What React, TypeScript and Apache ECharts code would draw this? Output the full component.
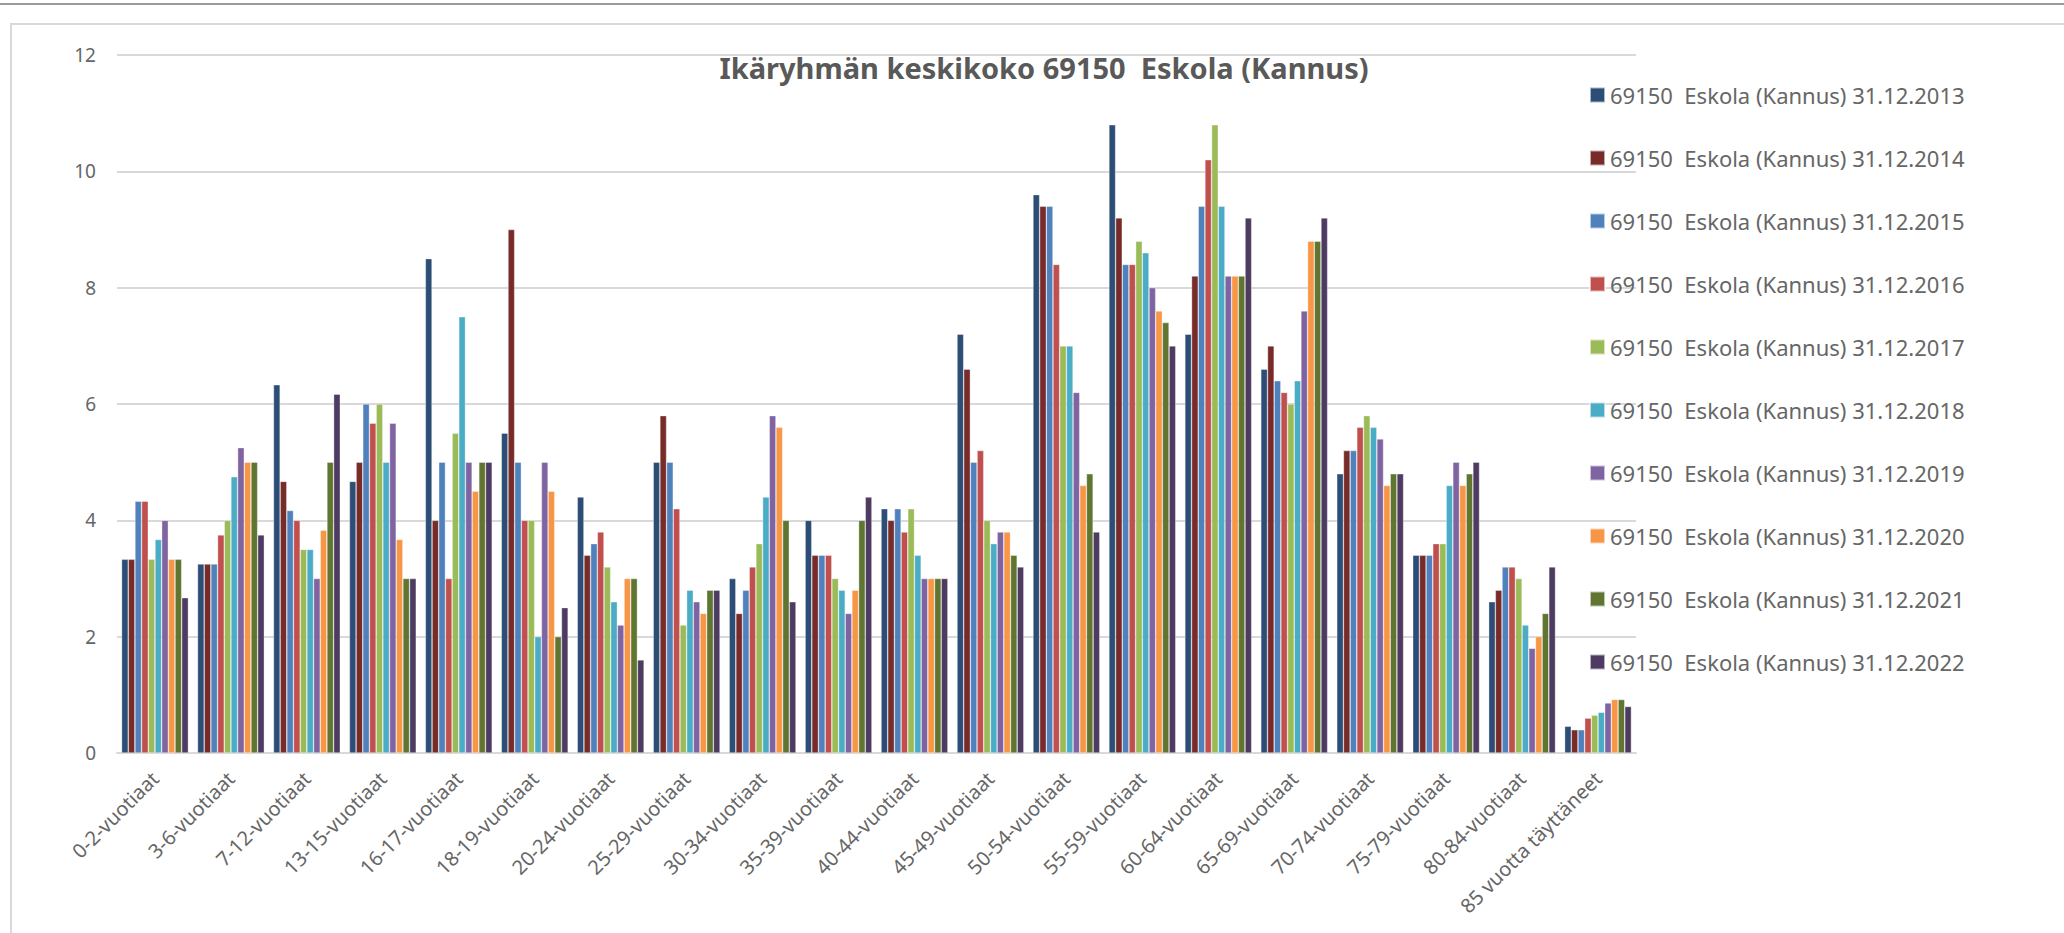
import React, { useEffect, useRef } from "react";
import * as echarts from "echarts";

const categories = [
  "0-2-vuotiaat", "3-6-vuotiaat", "7-12-vuotiaat", "13-15-vuotiaat", "16-17-vuotiaat",
  "18-19-vuotiaat", "20-24-vuotiaat", "25-29-vuotiaat", "30-34-vuotiaat", "35-39-vuotiaat",
  "40-44-vuotiaat", "45-49-vuotiaat", "50-54-vuotiaat", "55-59-vuotiaat", "60-64-vuotiaat",
  "65-69-vuotiaat", "70-74-vuotiaat", "75-79-vuotiaat", "80-84-vuotiaat", "85 vuotta täyttäneet",
];

const seriesNames = [
  "69150  Eskola (Kannus) 31.12.2013",
  "69150  Eskola (Kannus) 31.12.2014",
  "69150  Eskola (Kannus) 31.12.2015",
  "69150  Eskola (Kannus) 31.12.2016",
  "69150  Eskola (Kannus) 31.12.2017",
  "69150  Eskola (Kannus) 31.12.2018",
  "69150  Eskola (Kannus) 31.12.2019",
  "69150  Eskola (Kannus) 31.12.2020",
  "69150  Eskola (Kannus) 31.12.2021",
  "69150  Eskola (Kannus) 31.12.2022",
];

const colors = [
  "#2C4D75", "#772C2A", "#4F81BD", "#C0504D", "#9BBB59",
  "#4BACC6", "#8064A2", "#F79646", "#5F7530", "#4D3B62",
];

const y2013 = [3.33, 3.25, 6.33, 4.67, 8.5, 5.5, 4.4, 5.0, 3.0, 4.0, 4.2, 7.2, 9.6, 10.8, 7.2, 6.6, 4.8, 3.4, 2.6, 0.46];
const y2014 = [3.33, 3.25, 4.67, 5.0, 4.0, 9.0, 3.4, 5.8, 2.4, 3.4, 4.0, 6.6, 9.4, 9.2, 8.2, 7.0, 5.2, 3.4, 2.8, 0.4];
const y2015 = [4.33, 3.25, 4.17, 6.0, 5.0, 5.0, 3.6, 5.0, 2.8, 3.4, 4.2, 5.0, 9.4, 8.4, 9.4, 6.4, 5.2, 3.4, 3.2, 0.4];
const y2016 = [4.33, 3.75, 4.0, 5.67, 3.0, 4.0, 3.8, 4.2, 3.2, 3.4, 3.8, 5.2, 8.4, 8.4, 10.2, 6.2, 5.6, 3.6, 3.2, 0.6];
const y2017 = [3.33, 4.0, 3.5, 6.0, 5.5, 4.0, 3.2, 2.2, 3.6, 3.0, 4.2, 4.0, 7.0, 8.8, 10.8, 6.0, 5.8, 3.6, 3.0, 0.65];
const y2018 = [3.67, 4.75, 3.5, 5.0, 7.5, 2.0, 2.6, 2.8, 4.4, 2.8, 3.4, 3.6, 7.0, 8.6, 9.4, 6.4, 5.6, 4.6, 2.2, 0.7];
const y2019 = [4.0, 5.25, 3.0, 5.67, 5.0, 5.0, 2.2, 2.6, 5.8, 2.4, 3.0, 3.8, 6.2, 8.0, 8.2, 7.6, 5.4, 5.0, 1.8, 0.86];
const y2020 = [3.33, 5.0, 3.83, 3.67, 4.5, 4.5, 3.0, 2.4, 5.6, 2.8, 3.0, 3.8, 4.6, 7.6, 8.2, 8.8, 4.6, 4.6, 2.0, 0.92];
const y2021 = [3.33, 5.0, 5.0, 3.0, 5.0, 2.0, 3.0, 2.8, 4.0, 4.0, 3.0, 3.4, 4.8, 7.4, 8.2, 8.8, 4.8, 4.8, 2.4, 0.92];
const y2022 = [2.67, 3.75, 6.17, 3.0, 5.0, 2.5, 1.6, 2.8, 2.6, 4.4, 3.0, 3.2, 3.8, 7.0, 9.2, 9.2, 4.8, 5.0, 3.2, 0.8];

const allSeries = [y2013, y2014, y2015, y2016, y2017, y2018, y2019, y2020, y2021, y2022];

const titleText = "Ikäryhmän keskikoko 69150  Eskola (Kannus)";

export default function App() {
  const ref = useRef<HTMLDivElement>(null);
  useEffect(() => {
    if (!ref.current) return;
    const chart = echarts.init(ref.current, null, { renderer: "svg" });
    const font = "'Noto Sans', 'Open Sans', sans-serif";
    chart.setOption({
      animation: false,
      backgroundColor: "#ffffff",
      color: colors,
      textStyle: { fontFamily: font },
      title: {
        text: titleText,
        left: 1039,
        top: 48,
        textAlign: "center",
        textStyle: { fontFamily: font, fontSize: 29, fontWeight: "bold", color: "#595959" },
      },
      legend: {
        orient: "vertical",
        left: 1584,
        top: 78,
        itemWidth: 15,
        itemHeight: 15,
        itemGap: 39,
        itemTextGap: 8,
        icon: "rect",
        textStyle: { fontFamily: font, fontSize: 22, color: "#666666", lineHeight: 24 },
        data: seriesNames,
      },
      grid: { left: 117, right: 428, top: 55, bottom: 180, containLabel: false },
      xAxis: {
        type: "category",
        data: categories,
        axisLine: { lineStyle: { color: "#d9d9d9", width: 2 } },
        axisTick: { show: false },
        axisLabel: { rotate: 45, interval: 0, color: "#666666", fontSize: 20, fontFamily: font, margin: 22 },
      },
      yAxis: {
        type: "value",
        min: 0,
        max: 12,
        interval: 2,
        axisLine: { show: false },
        axisTick: { show: false },
        splitLine: { lineStyle: { color: "#d9d9d9", width: 2 } },
        axisLabel: { color: "#666666", fontSize: 19, fontFamily: font, margin: 21 },
      },
      graphic: [
        { type: "line", shape: { x1: 0, y1: 4, x2: 2064, y2: 4 }, style: { stroke: "#9a9a9a", lineWidth: 2 } },
        { type: "rect", shape: { x: 11, y: 24, width: 2060, height: 940 }, style: { fill: "none", stroke: "#d9d9d9", lineWidth: 2 } },
      ],
      series: allSeries.map((d, i) => ({
        name: seriesNames[i],
        type: "bar",
        data: d,
        barGap: "0%",
        barCategoryGap: "12%",
        itemStyle: { color: colors[i], borderColor: "rgba(255,255,255,0.6)", borderWidth: 0.6 },
      })),
    });
    return () => chart.dispose();
  }, []);
  return (
    <div
      ref={ref}
      style={{ position: "fixed", left: 0, top: 0, width: 2064, height: 933, background: "#fff" }}
    />
  );
}
